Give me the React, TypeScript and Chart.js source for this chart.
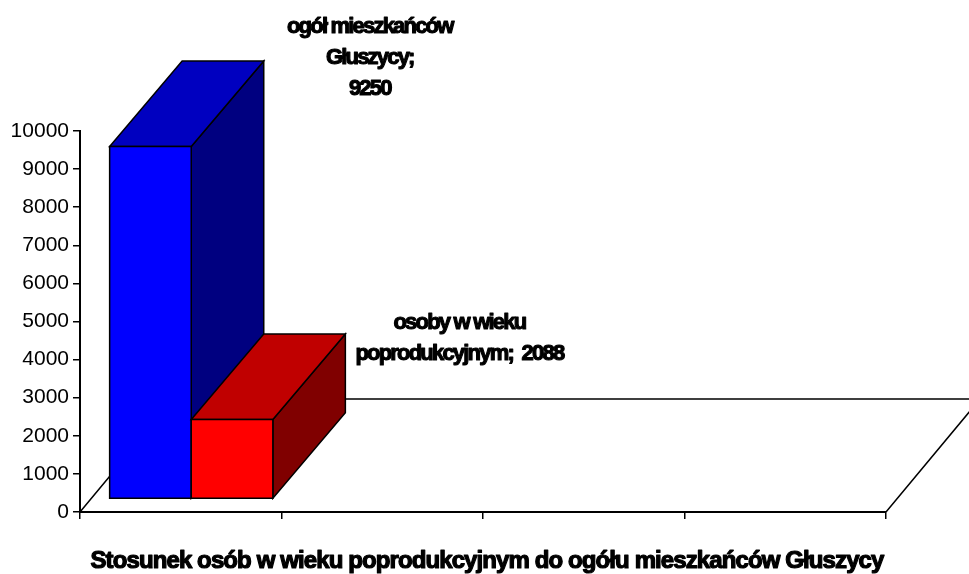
import { useEffect, useRef } from 'react';
import { Chart, registerables } from 'chart.js';

Chart.register(...registerables);

// ---- data ----
const categories = ['', '', '', ''];
const seriesNames = ['ogół mieszkańców Głuszycy', 'osoby w wieku poprodukcyjnym'];
const totalResidents = [9250, null, null, null];
const postWorkingAge = [2088, null, null, null];
const yMin = 0;
const yMax = 10000;
const yStep = 1000;
const chartTitle = 'Stosunek osób w wieku poprodukcyjnym do ogółu mieszkańców Głuszycy';
// how each data label is wrapped (name lines; whether value goes on its own line)
const labelNameLines = [
  ['ogół mieszkańców', 'Głuszycy;'],
  ['osoby w wieku', 'poprodukcyjnym;'],
];
const valueOnOwnLine = [true, false];

// ---- styles ----
const FONT = '"Liberation Sans", Arial, Helvetica, sans-serif';
const frontColors = ['#0000FF', '#FF0000'];
const topColors = ['#0000C0', '#C00000'];
const sideColors = ['#000080', '#800000'];
const FRONT = { dx: 10.5, dy: -13 };
const DEPTH = { dx: 72.5, dy: -85.5 };
const FLOOR = { dx: 94, dy: -113 };
const LABEL_OFFSET = [
  { dx: 106, dy: 28 },
  { dx: 114, dy: 20 },
];

function boldText(ctx: any, t: string, x: number, y: number) {
  ctx.fillText(t, x, y);
  ctx.strokeText(t, x, y);
}

const threeD = {
  id: 'threeD',
  beforeDatasetsDraw(chart: any) {
    const { ctx, chartArea: a } = chart;
    ctx.save();
    ctx.strokeStyle = '#000';
    ctx.lineWidth = 1.5;
    ctx.beginPath();
    ctx.moveTo(a.left, a.bottom);
    ctx.lineTo(a.left + FLOOR.dx, a.bottom + FLOOR.dy);
    ctx.lineTo(a.right + FLOOR.dx, a.bottom + FLOOR.dy);
    ctx.lineTo(a.right, a.bottom);
    ctx.stroke();
    ctx.restore();
  },
  afterDatasetsDraw(chart: any) {
    const { ctx } = chart;
    ctx.save();
    ctx.strokeStyle = '#000';
    ctx.lineWidth = 1.5;
    ctx.lineJoin = 'miter';
    const corners: any[] = [];
    chart.data.datasets.forEach((ds: any, i: number) => {
      const meta = chart.getDatasetMeta(i);
      meta.data.forEach((el: any, j: number) => {
        if (ds.data[j] == null) return;
        const { x, y, base, width } = el.getProps(['x', 'y', 'base', 'width'], true);
        const x0 = x - width / 2 + FRONT.dx;
        const x1 = x + width / 2 + FRONT.dx;
        const yt = y + FRONT.dy;
        const yb = base + FRONT.dy;
        // side
        ctx.beginPath();
        ctx.moveTo(x1, yt);
        ctx.lineTo(x1 + DEPTH.dx, yt + DEPTH.dy);
        ctx.lineTo(x1 + DEPTH.dx, yb + DEPTH.dy);
        ctx.lineTo(x1, yb);
        ctx.closePath();
        ctx.fillStyle = sideColors[i];
        ctx.fill();
        ctx.stroke();
        // top
        ctx.beginPath();
        ctx.moveTo(x0, yt);
        ctx.lineTo(x0 + DEPTH.dx, yt + DEPTH.dy);
        ctx.lineTo(x1 + DEPTH.dx, yt + DEPTH.dy);
        ctx.lineTo(x1, yt);
        ctx.closePath();
        ctx.fillStyle = topColors[i];
        ctx.fill();
        ctx.stroke();
        // front
        ctx.beginPath();
        ctx.rect(x0, yt, x1 - x0, yb - yt);
        ctx.fillStyle = frontColors[i];
        ctx.fill();
        ctx.stroke();
        corners.push({ i, j, cx: x1 + DEPTH.dx, cy: yt + DEPTH.dy, v: ds.data[j] });
      });
    });
    // data labels
    ctx.fillStyle = '#000';
    ctx.strokeStyle = '#000';
    ctx.lineWidth = 1.1;
    ctx.lineJoin = 'round';
    ctx.font = `bold 22px ${FONT}`;
    ctx.textAlign = 'center';
    ctx.textBaseline = 'middle';
    (ctx as any).letterSpacing = '-1.8px';
    corners.forEach((c) => {
      const lines = labelNameLines[c.i].slice();
      if (valueOnOwnLine[c.i]) lines.push(String(c.v));
      else lines[lines.length - 1] = lines[lines.length - 1] + '  ' + c.v;
      const lh = 31;
      const lastY = c.cy + LABEL_OFFSET[c.i].dy;
      const cx = c.cx + LABEL_OFFSET[c.i].dx;
      lines.forEach((t, k) => {
        boldText(ctx, t, cx, lastY - (lines.length - 1 - k) * lh);
      });
    });
    ctx.restore();
  },
  afterDraw(chart: any) {
    const { ctx } = chart;
    ctx.save();
    ctx.fillStyle = '#000';
    ctx.strokeStyle = '#000';
    ctx.lineWidth = 1.2;
    ctx.lineJoin = 'round';
    ctx.font = `bold 24px ${FONT}`;
    (ctx as any).letterSpacing = '0px';
    const nat = ctx.measureText(chartTitle).width;
    (ctx as any).letterSpacing = `${(793 - nat) / chartTitle.length}px`;
    ctx.textAlign = 'center';
    ctx.textBaseline = 'alphabetic';
    boldText(ctx, chartTitle, 487, 568);
    ctx.restore();
  },
};

export default function App() {
  const ref = useRef<HTMLCanvasElement | null>(null);
  useEffect(() => {
    if (!ref.current) return;
    const chart = new Chart(ref.current, {
      type: 'bar',
      data: {
        labels: categories,
        datasets: [
          { label: seriesNames[0], data: totalResidents, backgroundColor: 'rgba(0,0,0,0)', borderWidth: 0 },
          { label: seriesNames[1], data: postWorkingAge, backgroundColor: 'rgba(0,0,0,0)', borderWidth: 0 },
        ],
      },
      options: {
        responsive: false,
        animation: false,
        devicePixelRatio: 1,
        layout: { padding: { left: 0, right: 83, top: 131, bottom: 0 } },
        datasets: { bar: { categoryPercentage: 0.81, barPercentage: 1 } },
        plugins: { legend: { display: false }, tooltip: { enabled: false }, title: { display: false } },
        scales: {
          x: {
            offset: true,
            grid: { offset: true, drawOnChartArea: false, drawTicks: true, tickLength: 7, color: '#000', lineWidth: 1.5 },
            border: { display: true, color: '#000', width: 2 },
            ticks: { display: true, color: 'rgba(0,0,0,0)' },
            afterFit: (s: any) => { s.height = 62; },
          },
          y: {
            min: yMin,
            max: yMax,
            ticks: {
              stepSize: yStep,
              color: '#000',
              font: { family: FONT, size: 21 },
              padding: 4,
              callback: (v: any) => String(v),
            },
            grid: { drawOnChartArea: false, drawTicks: true, tickLength: 7, color: '#000', lineWidth: 1.5 },
            border: { display: true, color: '#000', width: 2 },
            afterFit: (s: any) => { s.width = 80; },
          },
        },
      },
      plugins: [threeD],
    } as any);
    return () => chart.destroy();
  }, []);
  return (
    <canvas
      ref={ref}
      width={969}
      height={574}
      style={{ position: 'absolute', left: 0, top: 0, width: 969, height: 574 }}
    />
  );
}
